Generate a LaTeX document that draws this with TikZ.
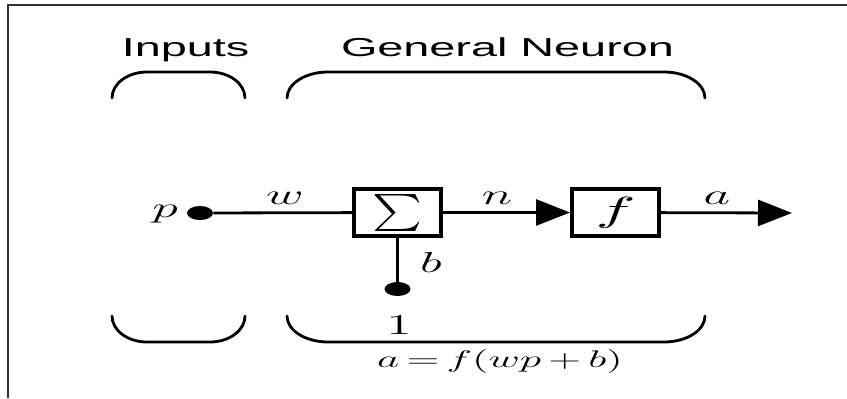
\documentclass[tikz,border=0pt]{standalone}
\usepackage{fontspec}
\setmainfont{Liberation Sans}
\usepackage{graphicx}
\usetikzlibrary{arrows.meta,shapes.geometric}
\newcommand{\stretchx}[1]{\scalebox{1.8}[1]{#1}}

\begin{document}
\begin{tikzpicture}[x=0.5pt, y=-0.5pt,
    block/.style={draw, line width=2pt, minimum width=43.5pt, minimum height=23.5pt, inner sep=0pt},
    dot/.style={ellipse, fill, minimum width=13pt, minimum height=7pt, inner sep=0pt},
    wire/.style={line width=1.4pt},
    brace/.style={line width=1.4pt, line cap=round},
    lbl/.style={font=\fontsize{14}{16}\selectfont, inner sep=0pt},
    heading/.style={anchor=base, font=\fontsize{13}{15}\selectfont, inner sep=0pt},
    tip/.style={-{Triangle[length=17pt, width=13pt]}}]
    \useasboundingbox (0,0) rectangle (847,398);
    % Frame
    \draw[line width=1pt, black!80] (847,5) -- (8,5) -- (8,398);
    % Headings
    \node[heading] (inputs) at (185.5,56) {\stretchx{Inputs}};
    \node[heading] (general) at (507.5,56) {\stretchx{General Neuron}};
    % Braces above and below
    \foreach \l/\r/\rad in {112/245/35, 287/705/41} {
      \draw[brace] (\l,98) arc[start angle=180, end angle=270, x radius=\rad, y radius=26]
        -- ({\r-\rad},72) arc[start angle=270, end angle=360, x radius=\rad, y radius=26];
      \draw[brace] (\l,316) arc[start angle=180, end angle=90, x radius=\rad, y radius=26]
        -- ({\r-\rad},342) arc[start angle=90, end angle=0, x radius=\rad, y radius=26];
    }
    % Neuron
    \node[dot] (p) at (200,213) {};
    \node[block] (sum) at (397.5,212.5) {\resizebox*{25pt}{18.5pt}{$\sum$}};
    \node[block] (f) at (615.5,212.5) {\resizebox*{20pt}{15.5pt}{$f$}};
    \node[dot] (one) at (397.5,289) {};
    \coordinate (out) at (792,213);
    \draw[wire] (p) -- (sum);
    \draw[wire] (one) -- (sum);
    \draw[wire, tip] (sum) -- (f);
    \draw[wire, tip] (f) -- (out);
    % Labels
    \node[lbl] (plbl) at (165,214) {\stretchx{$p$}};
    \node[lbl] (wlbl) at (285,198) {\stretchx{$w$}};
    \node[lbl] (nlbl) at (497,198) {\stretchx{$n$}};
    \node[lbl] (albl) at (717,198) {\stretchx{$a$}};
    \node[lbl] (blbl) at (431,262) {\stretchx{$b$}};
    \node[lbl] (onelbl) at (399,325) {\stretchx{$1$}};
    \node[font=\fontsize{11.5}{14}\selectfont, inner sep=0pt] (eq) at (500,361) {\stretchx{$a\,{=}\,f(wp\,{+}\,b)$}};
\end{tikzpicture}
\end{document}
